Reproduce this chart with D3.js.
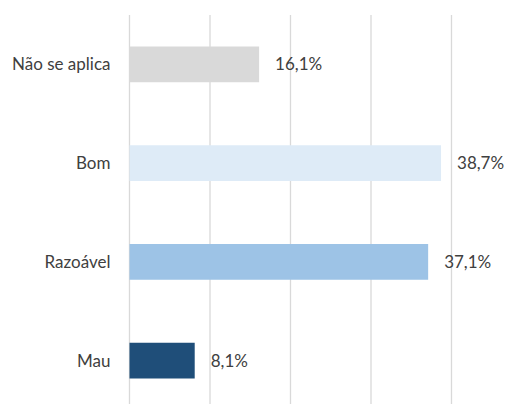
<!DOCTYPE html>
<html>
<head>
<meta charset="utf-8">
<script src="https://cdn.jsdelivr.net/npm/d3@7"></script>
<style>
  body { margin: 0; background: #fff; }
  text { font-family: Lato, "Open Sans", sans-serif; fill: #404040; }
</style>
</head>
<body>
<svg width="519" height="404"></svg>
<script>
// chart data
var categories = ["Não se aplica", "Bom", "Razoável", "Mau"];
var values = [16.1, 38.7, 37.1, 8.1];
var colors = ["#d9d9d9", "#deebf7", "#9dc3e6", "#1f4e79"];
var ticks = [0, 10, 20, 30, 40];

var svg = d3.select("svg");

var x = d3.scaleLinear()
    .domain([0, 40])
    .range([129.5, 451.5]);

var y = d3.scaleBand()
    .domain(categories)
    .range([15, 410])
    .paddingInner(0.638)
    .paddingOuter(0.319);

// gridlines
svg.selectAll("line.grid")
    .data(ticks)
  .enter().append("line")
    .attr("class", "grid")
    .attr("x1", function(d) { return x(d); })
    .attr("x2", function(d) { return x(d); })
    .attr("y1", 15)
    .attr("y2", 404)
    .attr("stroke", "#d9d9d9")
    .attr("stroke-width", 1.3);

var rows = categories.map(function(c, i) {
  return { name: c, value: values[i], color: colors[i] };
});

svg.selectAll("rect.bar")
    .data(rows)
  .enter().append("rect")
    .attr("class", "bar")
    .attr("x", x(0))
    .attr("y", function(d) { return y(d.name); })
    .attr("width", function(d) { return x(d.value) - x(0); })
    .attr("height", y.bandwidth())
    .attr("fill", function(d) { return d.color; });

// category labels
svg.selectAll("text.cat")
    .data(rows)
  .enter().append("text")
    .attr("class", "cat")
    .attr("x", 110.5)
    .attr("y", function(d) { return y(d.name) + y.bandwidth() / 2; })
    .attr("dy", "0.36em")
    .attr("text-anchor", "end")
    .style("font-size", "17px")
    .text(function(d) { return d.name; });

// value labels
var fmt = function(v) { return v.toFixed(1).replace(".", ",") + "%"; };
svg.selectAll("text.val")
    .data(rows)
  .enter().append("text")
    .attr("class", "val")
    .attr("x", function(d) { return x(d.value) + 16; })
    .attr("y", function(d) { return y(d.name) + y.bandwidth() / 2; })
    .attr("dy", "0.36em")
    .style("font-size", "17px")
    .text(function(d) { return fmt(d.value); });
</script>
</body>
</html>
